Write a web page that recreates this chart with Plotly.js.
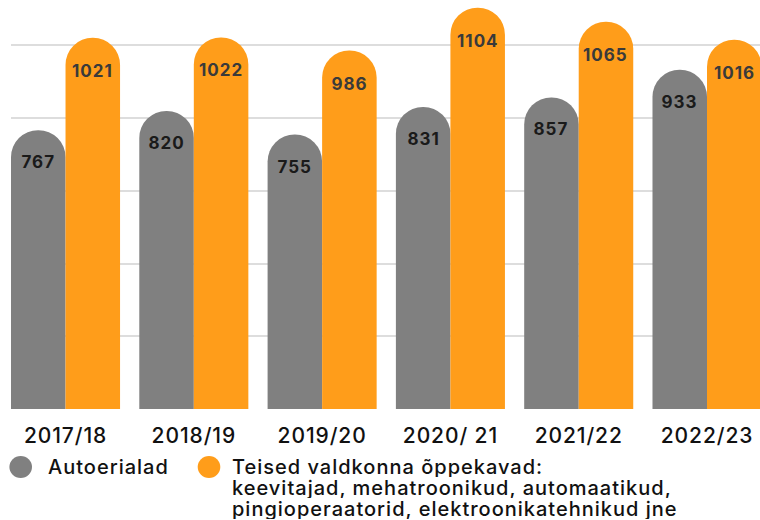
<!DOCTYPE html>
<html>
<head>
<meta charset="utf-8">
<script src="https://cdn.plot.ly/plotly-3.0.1.min.js"></script>
<style>
html,body{margin:0;padding:0;background:#fff;}
#chart{width:760px;height:520px;}
#chart .annotation-text{letter-spacing:1px;}
#chart .xtick text{letter-spacing:0.9px;}
</style>
</head>
<body>
<div id="chart"></div>
<script>
const categories = ["2017/18", "2018/19", "2019/20", "2020/ 21", "2021/22", "2022/23"];
const autoValues = [767, 820, 755, 831, 857, 933];
const otherValues = [1021, 1022, 986, 1104, 1065, 1016];
const seriesNames = ["Autoerialad", "Teised valdkonna õppekavad: keevitajad, mehatroonikud, automaatikud, pingioperaatorid, elektroonikatehnikud jne"];
const legendLines = ["Teised valdkonna õppekavad:", "keevitajad, mehatroonikud, automaatikud,", "pingioperaatorid, elektroonikatehnikud jne"];
const gridValues = [200, 400, 600, 800, 1000];

const GREY = "#808080", ORANGE = "#FF9D1A";
const FONT = "Inter, 'DejaVu Sans', sans-serif";

const traces = [
  {type: "bar", name: seriesNames[0], x: categories, y: autoValues,
   marker: {color: GREY, cornerradius: "50%"}, hoverinfo: "skip", showlegend: false},
  {type: "bar", name: seriesNames[1], x: categories, y: otherValues,
   marker: {color: ORANGE, cornerradius: "50%"}, hoverinfo: "skip", showlegend: false}
];

// value labels inside bar tops (positioned from data values via axis scales)
const annotations = [];
const half = 27.25; // half of one bar width in px (group offset)
categories.forEach((c, i) => {
  annotations.push({x: c, y: autoValues[i], xref: "x", yref: "y", xshift: -half, yshift: -32,
    xanchor: "center", yanchor: "middle", text: String(autoValues[i]), showarrow: false,
    font: {family: FONT, size: 17, color: "#1a1a1a", weight: 700}});
  annotations.push({x: c, y: otherValues[i], xref: "x", yref: "y", xshift: half, yshift: -33,
    xanchor: "center", yanchor: "middle", text: String(otherValues[i]), showarrow: false,
    font: {family: FONT, size: 17, color: "#3a3a3a", weight: 700}});
});

// legend (paper coords: plot spans x 11..760 px, y 0..409 px)
const pw = 749, ph = 409;
const px = X => (X - 11) / pw;
const py = Y => (409 - Y) / ph;

const shapes = [
  {type: "circle", xref: "paper", yref: "paper", xsizemode: "pixel", ysizemode: "pixel",
   xanchor: px(20.7), yanchor: py(467), x0: -11.3, x1: 11.3, y0: -11, y1: 11,
   fillcolor: GREY, line: {width: 0}},
  {type: "circle", xref: "paper", yref: "paper", xsizemode: "pixel", ysizemode: "pixel",
   xanchor: px(209), yanchor: py(467), x0: -11.3, x1: 11.3, y0: -11, y1: 11,
   fillcolor: ORANGE, line: {width: 0}}
];

const legFont = {family: FONT, size: 20, color: "#111111", weight: 500};
annotations.push({xref: "paper", yref: "paper", x: px(47), y: py(467), xanchor: "left", yanchor: "middle",
  text: seriesNames[0], showarrow: false, font: legFont, borderpad: 0, align: "left", width: 150, height: 21});
legendLines.forEach((t, i) => {
  annotations.push({xref: "paper", yref: "paper", x: px(231), y: py(466.5 + i * 21),
    xanchor: "left", yanchor: "middle", text: t, showarrow: false, font: legFont, borderpad: 0,
    align: "left", width: 500, height: 21});
});

const layout = {
  width: 760, height: 520,
  margin: {l: 11, r: 0, t: 0, b: 111},
  paper_bgcolor: "#ffffff", plot_bgcolor: "#ffffff",
  barmode: "group", bargap: 0.15, bargroupgap: 0,
  showlegend: false,
  xaxis: {type: "category", range: [-0.425, 5.413], showgrid: false, showline: false, zeroline: false,
          ticks: "", tickfont: {family: FONT, size: 21, color: "#111111", weight: 500},
          ticklabelstandoff: 12, fixedrange: true},
  yaxis: {range: [0, 1125], tickvals: gridValues, showticklabels: false, showgrid: true,
          gridcolor: "#dddddd", gridwidth: 2, zeroline: false, showline: false, fixedrange: true},
  shapes: shapes,
  annotations: annotations,
  font: {family: FONT}
};

Plotly.newPlot("chart", traces, layout, {displayModeBar: false, staticPlot: true});
</script>
</body>
</html>
